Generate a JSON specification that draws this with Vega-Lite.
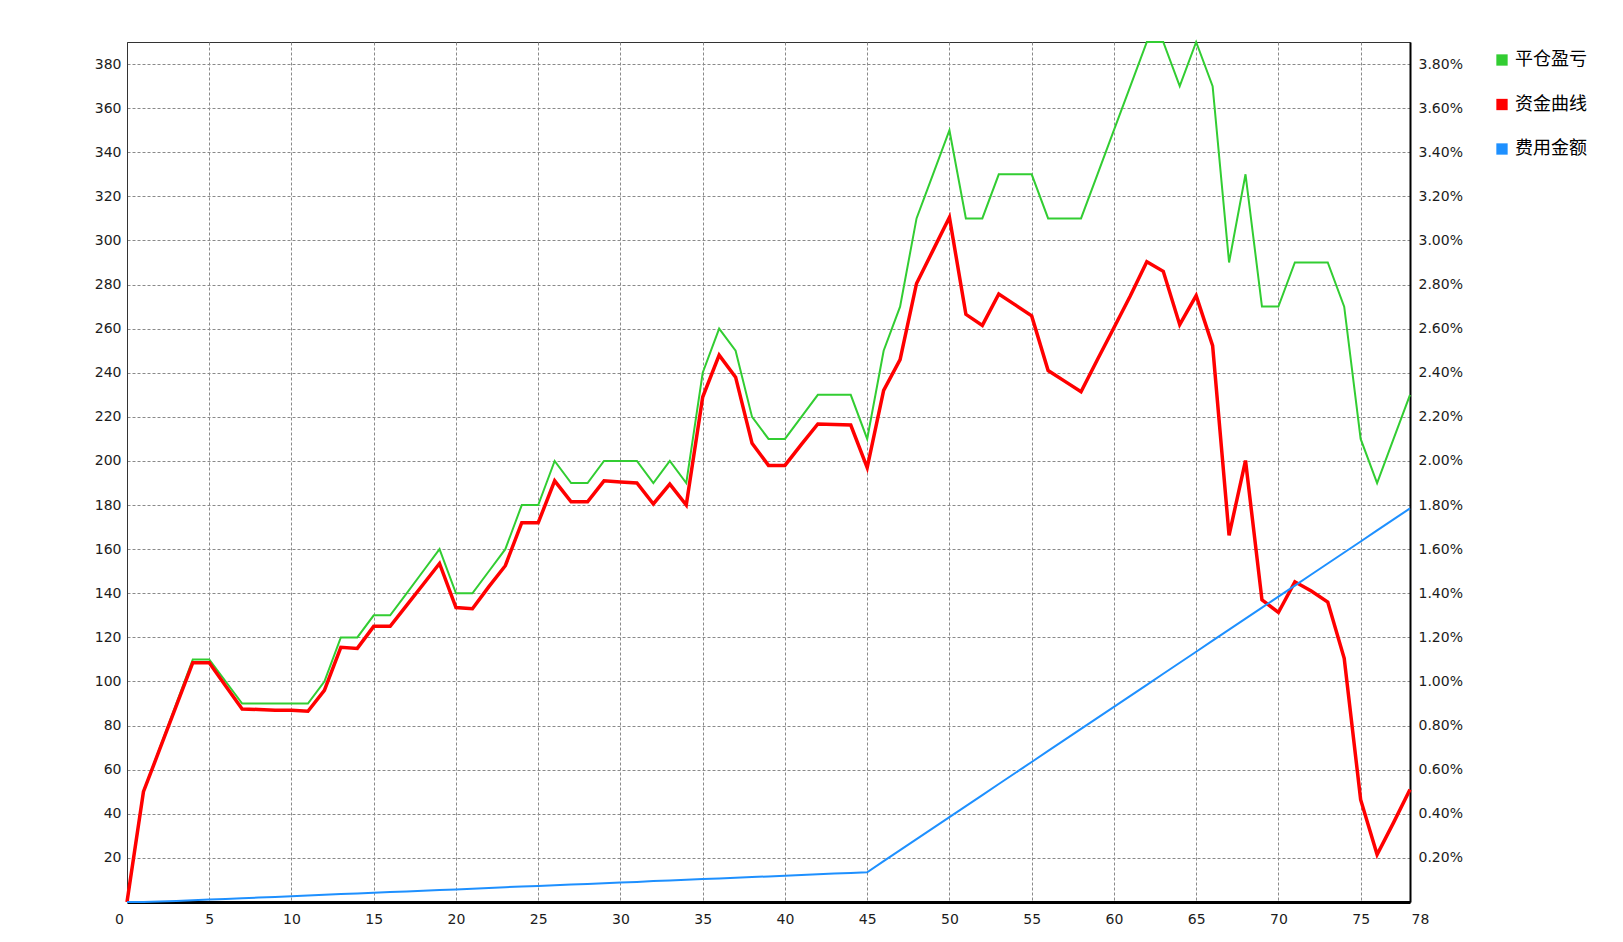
{
  "$schema": "https://vega.github.io/schema/vega-lite/v6.json",
  "width": 1283,
  "height": 860,
  "autosize": {"type": "none"},
  "padding": {"left": 127, "top": 42, "right": 213, "bottom": 40},
  "background": "white",
  "datasets": {
    "pnl": [
      {"x":0,"v":0},{"x":1,"v":50},{"x":2,"v":70},{"x":3,"v":90},{"x":4,"v":110},{"x":5,"v":110},{"x":6,"v":100},{"x":7,"v":90},{"x":8,"v":90},{"x":9,"v":90},
      {"x":10,"v":90},{"x":11,"v":90},{"x":12,"v":100},{"x":13,"v":120},{"x":14,"v":120},{"x":15,"v":130},{"x":16,"v":130},{"x":17,"v":140},{"x":18,"v":150},{"x":19,"v":160},
      {"x":20,"v":140},{"x":21,"v":140},{"x":22,"v":150},{"x":23,"v":160},{"x":24,"v":180},{"x":25,"v":180},{"x":26,"v":200},{"x":27,"v":190},{"x":28,"v":190},{"x":29,"v":200},
      {"x":30,"v":200},{"x":31,"v":200},{"x":32,"v":190},{"x":33,"v":200},{"x":34,"v":190},{"x":35,"v":240},{"x":36,"v":260},{"x":37,"v":250},{"x":38,"v":220},{"x":39,"v":210},
      {"x":40,"v":210},{"x":41,"v":220},{"x":42,"v":230},{"x":43,"v":230},{"x":44,"v":230},{"x":45,"v":210},{"x":46,"v":250},{"x":47,"v":270},{"x":48,"v":310},{"x":49,"v":330},
      {"x":50,"v":350},{"x":51,"v":310},{"x":52,"v":310},{"x":53,"v":330},{"x":54,"v":330},{"x":55,"v":330},{"x":56,"v":310},{"x":57,"v":310},{"x":58,"v":310},{"x":59,"v":330},
      {"x":60,"v":350},{"x":61,"v":370},{"x":62,"v":390},{"x":63,"v":390},{"x":64,"v":370},{"x":65,"v":390},{"x":66,"v":370},{"x":67,"v":290},{"x":68,"v":330},{"x":69,"v":270},
      {"x":70,"v":270},{"x":71,"v":290},{"x":72,"v":290},{"x":73,"v":290},{"x":74,"v":270},{"x":75,"v":210},{"x":76,"v":190},{"x":77,"v":210},{"x":78,"v":230}
    ],
    "equity": [
      {"x":0,"v":0},{"x":1,"v":50},{"x":2,"v":69.5},{"x":3,"v":89},{"x":4,"v":108.5},{"x":5,"v":108.5},{"x":6,"v":98},{"x":7,"v":87.5},{"x":8,"v":87.3},{"x":9,"v":87},
      {"x":10,"v":87},{"x":11,"v":86.5},{"x":12,"v":96},{"x":13,"v":115.5},{"x":14,"v":115},{"x":15,"v":125},{"x":16,"v":125},{"x":17,"v":134.5},{"x":18,"v":144},{"x":19,"v":153.5},
      {"x":20,"v":133.5},{"x":21,"v":133},{"x":22,"v":143},{"x":23,"v":152.5},{"x":24,"v":172},{"x":25,"v":172},{"x":26,"v":191},{"x":27,"v":181.5},{"x":28,"v":181.5},{"x":29,"v":191},
      {"x":30,"v":190.5},{"x":31,"v":190},{"x":32,"v":180.5},{"x":33,"v":189.5},{"x":34,"v":180},{"x":35,"v":229},{"x":36,"v":248},{"x":37,"v":238},{"x":38,"v":208},{"x":39,"v":198},
      {"x":40,"v":198},{"x":41,"v":207.5},{"x":42,"v":216.8},{"x":43,"v":216.5},{"x":44,"v":216.3},{"x":45,"v":197},{"x":46,"v":232},{"x":47,"v":246},{"x":48,"v":280.5},{"x":49,"v":295.5},
      {"x":50,"v":310.5},{"x":51,"v":266.5},{"x":52,"v":261.5},{"x":53,"v":275.7},{"x":54,"v":270.8},{"x":55,"v":265.8},{"x":56,"v":241},{"x":57,"v":236.2},{"x":58,"v":231.4},{"x":59,"v":246},
      {"x":60,"v":260.4},{"x":61,"v":274.9},{"x":62,"v":290.4},{"x":63,"v":286},{"x":64,"v":261.8},{"x":65,"v":275},{"x":66,"v":252.3},{"x":67,"v":166.3},{"x":68,"v":200.2},{"x":69,"v":137},
      {"x":70,"v":131.3},{"x":71,"v":145.2},{"x":72,"v":141},{"x":73,"v":136},{"x":74,"v":110.5},{"x":75,"v":46.4},{"x":76,"v":21.5},{"x":77,"v":36},{"x":78,"v":51}
    ],
    "fee": [
      {"x":0,"v":0},{"x":1,"v":0},{"x":2,"v":0.2},{"x":3,"v":0.5},{"x":4,"v":0.8},{"x":5,"v":1.1},{"x":6,"v":1.4},{"x":7,"v":1.7},{"x":8,"v":2.0},{"x":9,"v":2.3},
      {"x":10,"v":2.6},{"x":11,"v":2.9},{"x":12,"v":3.3},{"x":13,"v":3.6},{"x":14,"v":3.9},{"x":15,"v":4.2},{"x":16,"v":4.5},{"x":17,"v":4.8},{"x":18,"v":5.1},{"x":19,"v":5.4},
      {"x":20,"v":5.7},{"x":21,"v":6.0},{"x":22,"v":6.4},{"x":23,"v":6.7},{"x":24,"v":7.0},{"x":25,"v":7.3},{"x":26,"v":7.6},{"x":27,"v":7.9},{"x":28,"v":8.2},{"x":29,"v":8.5},
      {"x":30,"v":8.8},{"x":31,"v":9.1},{"x":32,"v":9.5},{"x":33,"v":9.8},{"x":34,"v":10.1},{"x":35,"v":10.4},{"x":36,"v":10.7},{"x":37,"v":11.0},{"x":38,"v":11.3},{"x":39,"v":11.6},
      {"x":40,"v":11.9},{"x":41,"v":12.2},{"x":42,"v":12.6},{"x":43,"v":12.9},{"x":44,"v":13.2},{"x":45,"v":13.5},{"x":46,"v":18.5},{"x":47,"v":23.5},{"x":48,"v":28.5},{"x":49,"v":33.5},
      {"x":50,"v":38.5},{"x":51,"v":43.5},{"x":52,"v":48.5},{"x":53,"v":53.5},{"x":54,"v":58.5},{"x":55,"v":63.5},{"x":56,"v":68.5},{"x":57,"v":73.5},{"x":58,"v":78.5},{"x":59,"v":83.5},
      {"x":60,"v":88.5},{"x":61,"v":93.5},{"x":62,"v":98.5},{"x":63,"v":103.5},{"x":64,"v":108.5},{"x":65,"v":113.5},{"x":66,"v":118.5},{"x":67,"v":123.5},{"x":68,"v":128.5},{"x":69,"v":133.5},
      {"x":70,"v":138.5},{"x":71,"v":143.5},{"x":72,"v":148.5},{"x":73,"v":153.5},{"x":74,"v":158.5},{"x":75,"v":163.5},{"x":76,"v":168.5},{"x":77,"v":173.5},{"x":78,"v":178.5}
    ]
  },
  "config": {
    "view": {"stroke": "#333333", "strokeWidth": 1},
    "font": "DejaVu Sans",
    "axis": {
      "labelFont": "DejaVu Sans",
      "labelFontSize": 14,
      "labelColor": "#1c1c1c",
      "ticks": false,
      "tickSize": 0,
      "title": null,
      "gridColor": "#8a8a8a",
      "gridDash": [3, 2],
      "gridWidth": 1,
      "domainColor": "#333333",
      "labelOverlap": false,
      "labelFlush": false
    }
  },
  "encoding": {
    "x": {
      "field": "x",
      "type": "quantitative",
      "scale": {"domain": [0, 78], "nice": false, "zero": false},
      "axis": {
        "values": [0, 5, 10, 15, 20, 25, 30, 35, 40, 45, 50, 55, 60, 65, 70, 75, 78],
        "grid": true,
        "domainColor": "#000000",
        "domainWidth": 3,
        "labelPadding": 10,
        "gridOpacity": {"condition": {"test": "datum.value == 0 || datum.value == 78", "value": 0}, "value": 1},
        "labelOffset": {"condition": [{"test": "datum.value == 0", "value": -8}, {"test": "datum.value == 78", "value": 10}], "value": 0}
      }
    }
  },
  "layer": [
    {
      "data": {"name": "pnl"},
      "mark": {"type": "line", "strokeWidth": 2},
      "encoding": {
        "y": {
          "field": "v", "type": "quantitative",
          "scale": {"domain": [0, 390], "nice": false},
          "axis": {
            "orient": "left",
            "values": [20, 40, 60, 80, 100, 120, 140, 160, 180, 200, 220, 240, 260, 280, 300, 320, 340, 360, 380],
            "grid": true,
            "labelPadding": 6,
            "domainWidth": 1
          }
        },
        "color": {
          "datum": "平仓盈亏", "type": "nominal",
          "scale": {"domain": ["平仓盈亏", "资金曲线", "费用金额"], "range": ["#32cd32", "#ff0000", "#1e90ff"]},
          "legend": {
            "orient": "none",
            "legendX": 1366,
            "legendY": 9,
            "title": null,
            "padding": 0,
            "symbolType": "square",
            "symbolSize": 128,
            "symbolStrokeWidth": 0,
            "labelFont": "Noto Sans CJK SC",
            "labelFontSize": 18,
            "labelColor": "#000000",
            "labelOffset": 4,
            "rowPadding": 26.5,
            "encode": {"symbols": {"update": {"fill": {"scale": "color", "field": "value"}, "opacity": {"value": 1}}}}
          }
        }
      }
    },
    {
      "data": {"name": "equity"},
      "mark": {"type": "line", "strokeWidth": 3.5},
      "encoding": {
        "y": {"field": "v", "type": "quantitative", "scale": {"domain": [0, 390], "nice": false}, "axis": null},
        "color": {"datum": "资金曲线", "type": "nominal"}
      }
    },
    {
      "data": {"name": "fee"},
      "mark": {"type": "line", "strokeWidth": 2},
      "encoding": {
        "y": {
          "field": "v", "type": "quantitative",
          "scale": {"domain": [0, 390], "nice": false},
          "axis": {
            "orient": "right",
            "values": [20, 40, 60, 80, 100, 120, 140, 160, 180, 200, 220, 240, 260, 280, 300, 320, 340, 360, 380],
            "grid": false,
            "labelExpr": "format(datum.value / 10000, '.2%')",
            "labelPadding": 8,
            "domainColor": "#000000",
            "domainWidth": 2
          }
        },
        "color": {"datum": "费用金额", "type": "nominal"}
      }
    }
  ],
  "resolve": {"axis": {"y": "independent"}}
}
